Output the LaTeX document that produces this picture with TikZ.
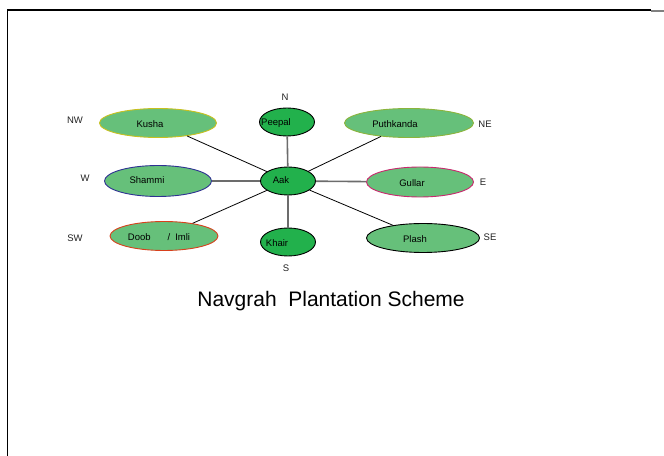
\documentclass[tikz,border=0pt]{standalone}
\usepackage{fontspec}
\setmainfont{Liberation Sans}
\usetikzlibrary{shapes.geometric}
\definecolor{darkleaf}{HTML}{22B14C}
\definecolor{lightleaf}{HTML}{66C07A}
\definecolor{kushaedge}{HTML}{C8C020}
\definecolor{puthedge}{HTML}{8CB43C}
\definecolor{shammiedge}{HTML}{2E3192}
\definecolor{gullaredge}{HTML}{C8286E}
\definecolor{doobedge}{HTML}{D8401C}
\definecolor{labelgray}{HTML}{222222}
\tikzset{
  centretree/.style={ellipse, draw=black, line width=0.9bp, fill=darkleaf,
    minimum width=55bp, minimum height=28bp, inner sep=0pt},
  outertree/.style={ellipse, fill=lightleaf, line width=0.9bp, inner sep=0pt,
    minimum height=29bp},
  treename/.style={font=\fontsize{9.5bp}{11bp}\selectfont, text=black, inner sep=0pt},
  direction/.style={font=\fontsize{9.5bp}{11bp}\selectfont, text=labelgray, inner sep=0pt},
  axisline/.style={draw=gray!85!black, line width=1.6bp},
  diagline/.style={draw=black, line width=0.8bp},
}
\begin{document}
\begin{tikzpicture}[x=1bp,y=-1bp]
\useasboundingbox (0,0) rectangle (664,456);
% page frame
\draw[line width=1.5bp] (651,10) -- (7.5,10) -- (7.5,456);
\draw[gray, line width=1.5bp] (651,11) -- (664,11);

% trees
\node[centretree] (aak) at (288,181) {};
\node[centretree] (peepal) at (287,122) {};
\node[centretree] (khair) at (288,242) {};
\node[outertree, draw=kushaedge, minimum width=117bp] (kusha) at (158,123) {};
\node[outertree, draw=puthedge, minimum width=129bp] (puthkanda) at (409,123) {};
\node[outertree, draw=shammiedge, minimum width=107bp, minimum height=31bp] (shammi) at (158,181) {};
\node[outertree, draw=gullaredge, minimum width=107bp, minimum height=30bp] (gullar) at (420,182) {};
\node[outertree, draw=doobedge, minimum width=108bp] (doob) at (164,236) {};
\node[outertree, draw=black, minimum width=113bp] (plash) at (423,238) {};

% connectors
\draw[axisline] (aak) -- (peepal);
\draw[axisline] (aak) -- (khair);
\draw[axisline] (aak) -- (shammi);
\draw[axisline] (aak) -- (gullar);
\draw[diagline] (aak) -- (kusha);
\draw[diagline] (aak) -- (puthkanda);
\draw[diagline] (aak) -- (doob);
\draw[diagline] (aak) -- (plash);

% tree names
\node[treename] (taak) at (281,180) {Aak};
\node[treename] (tpeepal) at (276,123) {Peepal};
\node[treename] (tkhair) at (277,243) {Khair};
\node[treename] (tkusha) at (150,124) {Kusha};
\node[treename] (tputh) at (395,124) {Puthkanda};
\node[treename] (tshammi) at (147,180) {Shammi};
\node[treename] (tgullar) at (412,183) {Gullar};
\node[treename] (tdoob) at (159,237) {Doob\hspace{17bp}/\hspace{5bp}Imli};
\node[treename] (tplash) at (415,239) {Plash};

% directions
\node[direction] (dn) at (285,97) {N};
\node[direction] (ds) at (286,268) {S};
\node[direction] (dnw) at (75,120) {NW};
\node[direction] (dw) at (85,178) {W};
\node[direction] (dsw) at (75,238) {SW};
\node[direction] (dne) at (485,124) {NE};
\node[direction] (de) at (483,182) {E};
\node[direction] (dse) at (490,237) {SE};

% title
\node[font=\fontsize{21bp}{24bp}\selectfont, inner sep=0pt] (title) at (331,301) {Navgrah\ \ Plantation Scheme};
\end{tikzpicture}
\end{document}
